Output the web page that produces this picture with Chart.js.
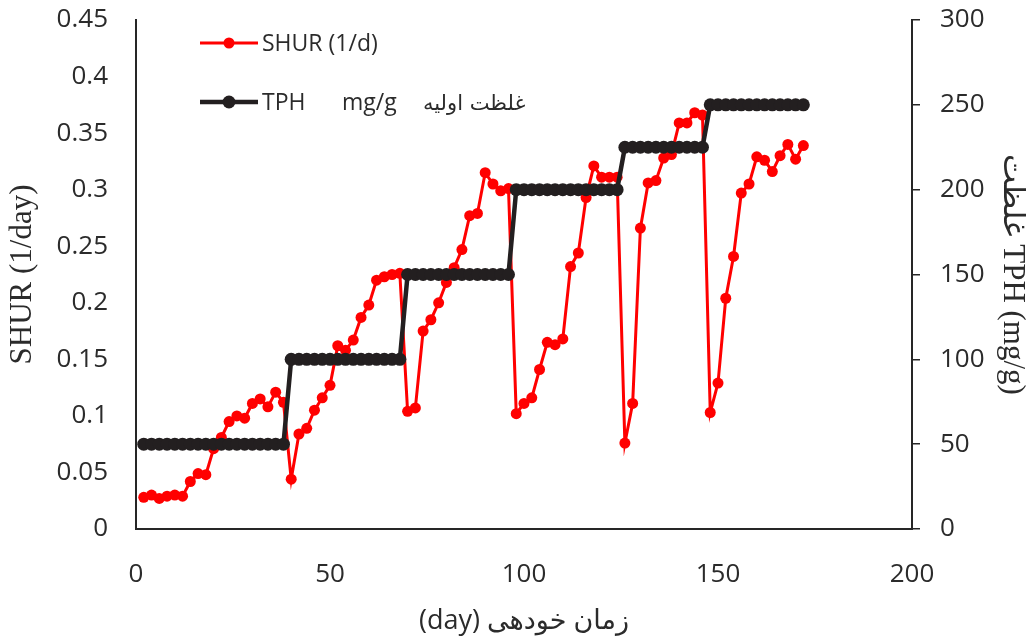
<!DOCTYPE html>
<html>
<head>
<meta charset="utf-8">
<script src="https://cdn.jsdelivr.net/npm/chart.js@4.4.0/dist/chart.umd.min.js"></script>
<style>html,body{margin:0;padding:0;background:#fff;overflow:hidden}</style>
</head>
<body>
<canvas id="c" width="1026" height="638"></canvas>
<script>
// ---- data ----
const shurDays = [2,4,6,8,10,12,14,16,18,20,22,24,26,28,30,32,34,36,38,40,
  42,44,46,48,50,52,54,56,58,60,62,64,66,68,70,72,74,76,78,80,
  82,84,86,88,90,92,94,96,98,100,102,104,106,108,110,112,114,116,118,120,
  122,124,126,128,130,132,134,136,138,140,142,144,146,148,150,152,154,156,158,160,
  162,164,166,168,170,172];
const shurValues = [0.028,0.030,0.027,0.029,0.030,0.029,0.042,0.049,0.048,0.071,
  0.081,0.095,0.100,0.098,0.111,0.115,0.108,0.121,0.112,0.044,
  0.084,0.089,0.105,0.116,0.127,0.162,0.158,0.167,0.187,0.198,
  0.220,0.223,0.225,0.226,0.104,0.107,0.175,0.185,0.200,0.218,
  0.231,0.247,0.277,0.279,0.315,0.305,0.299,0.301,0.102,0.111,
  0.116,0.141,0.165,0.163,0.168,0.232,0.244,0.293,0.321,0.311,
  0.311,0.311,0.076,0.111,0.266,0.306,0.308,0.328,0.331,0.359,
  0.359,0.368,0.366,0.103,0.129,0.204,0.241,0.297,0.305,0.329,
  0.326,0.316,0.330,0.340,0.327,0.339];
const tphDays = [2,4,6,8,10,12,14,16,18,20,22,24,26,28,30,32,34,36,38,40,
  42,44,46,48,50,52,54,56,58,60,62,64,66,68,70,72,74,76,78,80,
  82,84,86,88,90,92,94,96,98,100,102,104,106,108,110,112,114,116,118,120,
  122,124,126,128,130,132,134,136,138,140,142,144,146,148,150,152,154,156,158,160,
  162,164,166,168,170,172];
const tphValues = [50,50,50,50,50,50,50,50,50,50,50,50,50,50,50,50,50,50,50,100,
  100,100,100,100,100,100,100,100,100,100,100,100,100,100,150,150,150,150,150,150,
  150,150,150,150,150,150,150,150,200,200,200,200,200,200,200,200,200,200,200,200,
  200,200,225,225,225,225,225,225,225,225,225,225,225,250,250,250,250,250,250,250,
  250,250,250,250,250,250];
const xTicks = [0,50,100,150,200];
const yLeftTicks = [0,0.05,0.1,0.15,0.2,0.25,0.3,0.35,0.4,0.45];
const yLeftTickLabels = ['0','0.05','0.1','0.15','0.2','0.25','0.3','0.35','0.4','0.45'];
const yRightTicks = [0,50,100,150,200,250,300];
const legendLabels = ['SHUR (1/d)', 'TPH', 'mg/g', 'غلظت اولیه'];
const titles = {
  x: '(day) زمان خودهی',
  yLeft: 'SHUR (1/day)',
  yRight: 'غلظت TPH (mg/g)'
};

// ---- styling ----
const RED = '#FF0000';
const BLACK = '#231F20';
const TEXT = '#2b2b2b';
const AXIS = '#262626';
const SANS = '"Open Sans", "DejaVu Sans", sans-serif';
const SERIF = '"Liberation Serif", "DejaVu Sans", serif';

const toPts = (xs, ys) => xs.map((x, i) => ({x: x, y: ys[i]}));
const fixWidth = w => s => { s.width = w; s.paddingTop = 0; s.paddingBottom = 0; };

const legendPlugin = {
  id: 'customLegend',
  afterDraw(chart) {
    const ctx = chart.ctx;
    ctx.save();
    const rows = [
      {y: 43, color: RED, lw: 3, r: 5.5},
      {y: 102, color: BLACK, lw: 4.5, r: 6.5}
    ];
    rows.forEach(function (row) {
      ctx.strokeStyle = row.color;
      ctx.lineWidth = row.lw;
      ctx.beginPath();
      ctx.moveTo(200, row.y);
      ctx.lineTo(258, row.y);
      ctx.stroke();
      ctx.fillStyle = row.color;
      ctx.beginPath();
      ctx.arc(229, row.y, row.r, 0, Math.PI * 2);
      ctx.fill();
    });
    ctx.fillStyle = TEXT;
    ctx.textBaseline = 'middle';
    ctx.textAlign = 'left';
    ctx.font = '23px ' + SANS;
    ctx.fillText(legendLabels[0], 262, 44);
    ctx.fillText(legendLabels[1], 262, 103);
    ctx.fillText(legendLabels[2], 342, 103);
    ctx.font = '21px "DejaVu Sans", sans-serif';
    ctx.fillText(legendLabels[3], 423, 105);
    ctx.restore();
  }
};

new Chart(document.getElementById('c'), {
  type: 'scatter',
  data: {
    datasets: [
      {
        label: 'TPH',
        data: toPts(tphDays, tphValues),
        yAxisID: 'y2',
        showLine: true,
        borderColor: BLACK,
        backgroundColor: BLACK,
        borderWidth: 4.5,
        pointRadius: 6.5,
        pointBorderWidth: 0,
        order: 1
      },
      {
        label: 'SHUR',
        data: toPts(shurDays, shurValues),
        yAxisID: 'y',
        showLine: true,
        borderColor: RED,
        backgroundColor: RED,
        borderWidth: 3,
        pointRadius: 5.5,
        pointBorderWidth: 0,
        order: 2
      }
    ]
  },
  options: {
    responsive: false,
    animation: false,
    devicePixelRatio: 1,
    layout: {padding: {top: 20, left: 0, right: 0, bottom: 0}},
    plugins: {legend: {display: false}, tooltip: {enabled: false}},
    scales: {
      x: {
        type: 'linear',
        position: 'bottom',
        min: 0, max: 200,
        afterBuildTicks: s => { s.ticks = xTicks.map(v => ({value: v})); },
        afterFit: s => { s.height = 109; },
        grid: {drawOnChartArea: false, drawTicks: false},
        border: {display: true, color: AXIS, width: 2},
        ticks: {color: TEXT, font: {family: SANS, size: 26}, padding: 30, maxRotation: 0},
        title: {display: true, text: titles.x, color: TEXT, font: {family: SANS, size: 27, lineHeight: 1.2}, padding: 0}
      },
      y: {
        type: 'linear',
        position: 'left',
        min: 0, max: 0.45,
        afterBuildTicks: s => { s.ticks = yLeftTicks.map(v => ({value: v})); },
        afterFit: fixWidth(136),
        grid: {drawOnChartArea: false, drawTicks: false},
        border: {display: true, color: AXIS, width: 2},
        ticks: {
          color: TEXT, font: {family: SANS, size: 26}, padding: 28,
          callback: (v, i) => yLeftTickLabels[i]
        },
        title: {display: true, text: titles.yLeft, color: TEXT, font: {family: SERIF, size: 31, lineHeight: 1}, padding: 7}
      },
      y2: {
        type: 'linear',
        position: 'right',
        min: 0, max: 300,
        afterBuildTicks: s => { s.ticks = yRightTicks.map(v => ({value: v})); },
        afterFit: fixWidth(114),
        grid: {drawOnChartArea: false, drawTicks: true, tickLength: 8, color: AXIS, lineWidth: 1.5},
        border: {display: true, color: AXIS, width: 2},
        ticks: {color: TEXT, font: {family: SANS, size: 26}, padding: 20},
        title: {display: true, text: titles.yRight, color: TEXT, font: {family: SERIF, size: 31, lineHeight: 0.8}, padding: 1}
      }
    }
  },
  plugins: [legendPlugin]
});
</script>
</body>
</html>
